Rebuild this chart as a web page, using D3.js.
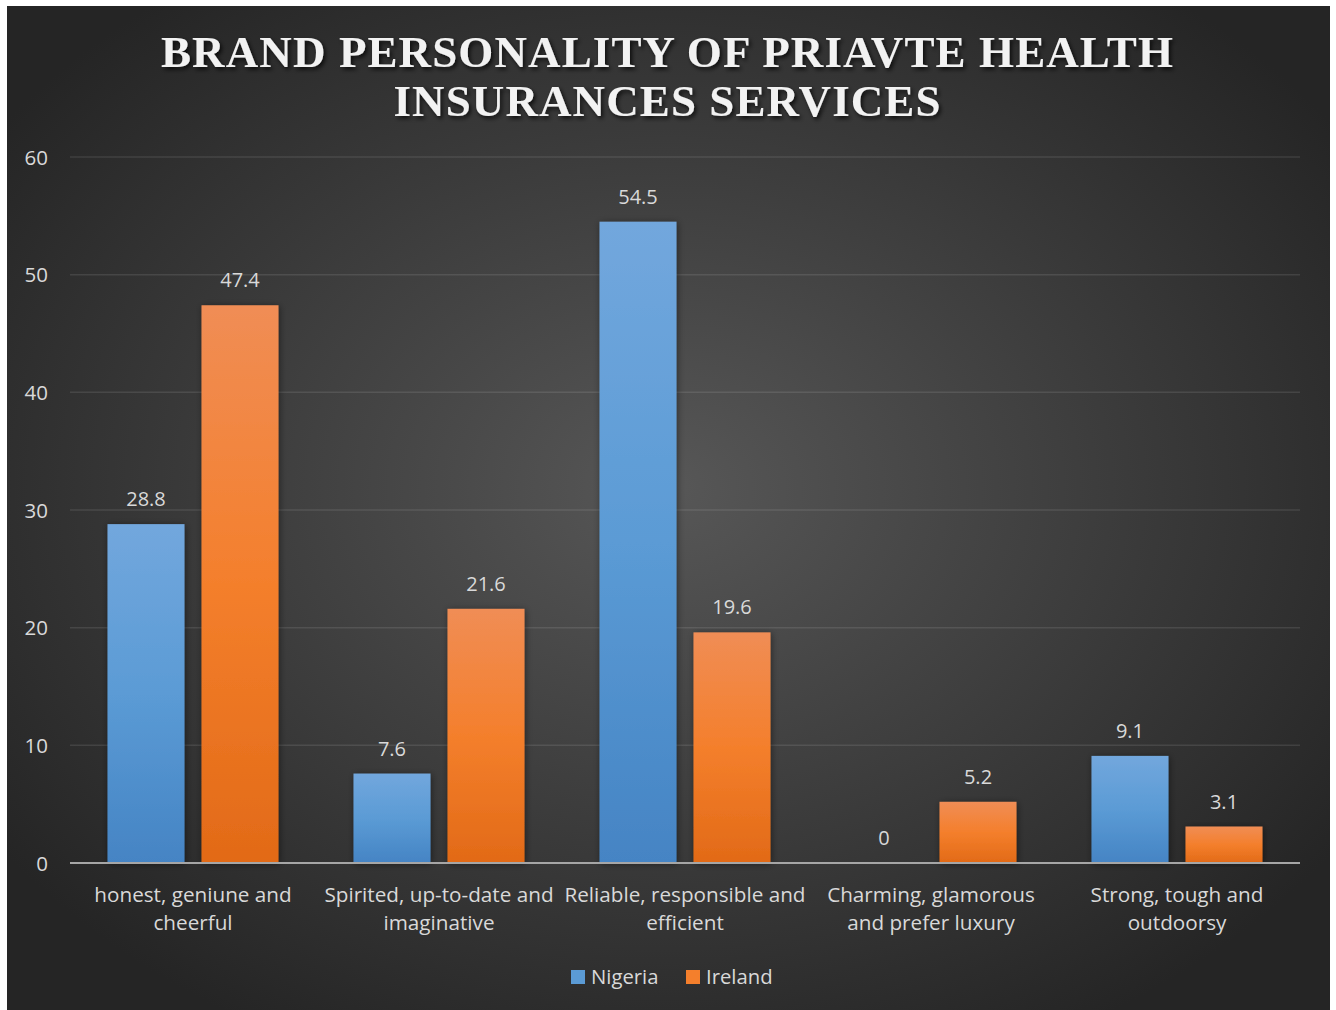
<!DOCTYPE html>
<html>
<head>
<meta charset="utf-8">
<script src="https://cdn.jsdelivr.net/npm/d3@7"></script>
<style>
  html, body { margin: 0; padding: 0; background: #ffffff; }
  svg { display: block; }
  .lbl { font-family: "Open Sans", "Noto Sans", sans-serif; fill: #d9d9d9; }
</style>
</head>
<body>
<svg id="chart" width="1336" height="1010"></svg>
<script>
// Chart data
const categories = [
  ["honest, geniune and", "cheerful"],
  ["Spirited, up-to-date and", "imaginative"],
  ["Reliable, responsible and", "efficient"],
  ["Charming, glamorous", "and prefer luxury"],
  ["Strong, tough and", "outdoorsy"]
];
const seriesNames = ["Nigeria", "Ireland"];
const nigeria = [28.8, 7.6, 54.5, 0, 9.1];
const ireland = [47.4, 21.6, 19.6, 5.2, 3.1];
const yTicks = [0, 10, 20, 30, 40, 50, 60];
const titleLines = ["BRAND PERSONALITY OF PRIAVTE HEALTH", "INSURANCES SERVICES"];

const seriesValues = [nigeria, ireland];
const catKeys = categories.map(c => c.join(" "));

const svg = d3.select("#chart");
const defs = svg.append("defs");

// Background radial shading
const bg = defs.append("radialGradient").attr("id", "bgGrad")
  .attr("cx", "50%").attr("cy", "48%").attr("r", "62%");
bg.append("stop").attr("offset", "0%").attr("stop-color", "#575757");
bg.append("stop").attr("offset", "100%").attr("stop-color", "#252525");

// Bar gradients
const barGrads = [
  { id: "gNigeria", top: "#72a7dd", mid: "#5b9bd5", bot: "#4584c4" },
  { id: "gIreland", top: "#f08d55", mid: "#f47f2c", bot: "#e26a17" }
];
barGrads.forEach(g => {
  const lg = defs.append("linearGradient").attr("id", g.id)
    .attr("x1", 0).attr("y1", 0).attr("x2", 0).attr("y2", 1);
  lg.append("stop").attr("offset", "0%").attr("stop-color", g.top);
  lg.append("stop").attr("offset", "50%").attr("stop-color", g.mid);
  lg.append("stop").attr("offset", "100%").attr("stop-color", g.bot);
});
const legendColors = ["#5b9bd5", "#f47f2c"];

// Shadows
const ts = defs.append("filter").attr("id", "titleShadow")
  .attr("x", "-5%").attr("y", "-30%").attr("width", "110%").attr("height", "160%");
ts.append("feDropShadow").attr("dx", 2).attr("dy", 2.5).attr("stdDeviation", 2)
  .attr("flood-color", "#000").attr("flood-opacity", 0.75);

const bs = defs.append("filter").attr("id", "barShadow")
  .attr("x", "-20%").attr("y", "-10%").attr("width", "140%").attr("height", "120%");
bs.append("feDropShadow").attr("dx", 1).attr("dy", 1).attr("stdDeviation", 3.5)
  .attr("flood-color", "#000").attr("flood-opacity", 0.45);

// Chart area
svg.append("rect").attr("x", 7).attr("y", 6).attr("width", 1323).attr("height", 1004)
  .attr("fill", "url(#bgGrad)");

// Scales
const y = d3.scaleLinear().domain([0, 60]).range([863, 157]);
const x = d3.scaleBand().domain(catKeys).range([70, 1300]).paddingInner(0).paddingOuter(0);
const xs = d3.scaleBand().domain(seriesNames).range([0, x.bandwidth()])
  .paddingInner(0.181).paddingOuter(0.399);

// Gridlines
svg.append("g").selectAll("line").data(yTicks.filter(t => t > 0)).join("line")
  .attr("x1", 70).attr("x2", 1300)
  .attr("y1", d => y(d)).attr("y2", d => y(d))
  .attr("stroke", "#ffffff").attr("stroke-opacity", 0.1).attr("stroke-width", 1.5);

// Y axis labels
const yAxis = d3.axisLeft(y).tickValues(yTicks).tickSize(0).tickPadding(0);
const yg = svg.append("g").attr("transform", "translate(48,0)").call(yAxis);
yg.select(".domain").remove();
yg.selectAll("text").attr("class", "lbl").attr("font-size", 20.5)
  .attr("font-family", null).attr("fill", "#d9d9d9").attr("dy", "0.35em");

// Bars
const groups = svg.append("g").selectAll("g").data(seriesNames).join("g");
groups.each(function(s, si) {
  const vals = seriesValues[si];
  d3.select(this).selectAll("rect").data(vals.map((v, i) => ({ v, k: catKeys[i] }))).join("rect")
    .attr("x", d => x(d.k) + xs(s))
    .attr("y", d => y(d.v))
    .attr("width", xs.bandwidth())
    .attr("height", d => y(0) - y(d.v))
    .attr("fill", `url(#${barGrads[si].id})`)
    .attr("filter", d => d.v > 0 ? "url(#barShadow)" : null);
  d3.select(this).selectAll("text").data(vals.map((v, i) => ({ v, k: catKeys[i] }))).join("text")
    .attr("class", "lbl").attr("font-size", 20).attr("text-anchor", "middle")
    .attr("x", d => x(d.k) + xs(s) + xs.bandwidth() / 2)
    .attr("y", d => y(d.v) - 18)
    .text(d => d.v);
});

// Baseline
svg.append("line").attr("x1", 70).attr("x2", 1300).attr("y1", y(0)).attr("y2", y(0))
  .attr("stroke", "#a6a6a6").attr("stroke-width", 2);

// Category labels
const cg = svg.append("g").selectAll("text").data(categories).join("text")
  .attr("class", "lbl").attr("font-size", 20.7).attr("text-anchor", "middle")
  .attr("x", (d, i) => x(catKeys[i]) + x.bandwidth() / 2)
  .attr("y", 902);
cg.selectAll("tspan").data(d => d).join("tspan")
  .attr("x", function() { return d3.select(this.parentNode).attr("x"); })
  .attr("dy", (d, i) => i === 0 ? 0 : 28)
  .text(d => d);

// Title
const title = svg.append("g").attr("filter", "url(#titleShadow)");
const titleWidths = [1012, 547];
title.selectAll("text").data(titleLines).join("text")
  .attr("x", 667).attr("y", (d, i) => 67 + i * 49)
  .attr("text-anchor", "middle")
  .attr("font-family", "'Liberation Serif', 'DejaVu Serif', serif")
  .attr("font-weight", "bold").attr("font-size", 45)
  .attr("fill", "#f2f2f2")
  .attr("textLength", (d, i) => titleWidths[i])
  .attr("lengthAdjust", "spacing")
  .text(d => d);

// Legend
const legend = svg.append("g");
const legendX = [571, 686];
seriesNames.forEach((s, i) => {
  legend.append("rect").attr("x", legendX[i]).attr("y", 970).attr("width", 14).attr("height", 14)
    .attr("fill", legendColors[i]);
  legend.append("text").attr("class", "lbl").attr("font-size", 20.3)
    .attr("x", legendX[i] + 20).attr("y", 984).text(s);
});
</script>
</body>
</html>
